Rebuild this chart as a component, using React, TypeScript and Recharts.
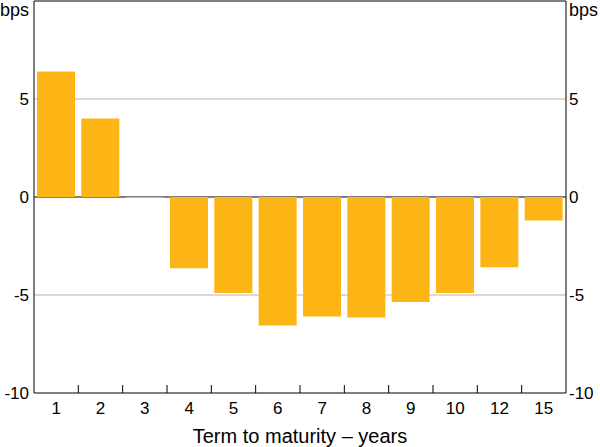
import { Bar, CartesianGrid, ComposedChart, Line, XAxis, YAxis } from "recharts"

const terms = ["1", "2", "3", "4", "5", "6", "7", "8", "9", "10", "12", "15"]
const change = [6.4, 4.0, -0.05, -3.63, -4.9, -6.56, -6.1, -6.15, -5.36, -4.9, -3.58, -1.2]
const yTicks = [-10, -5, 0, 5, 10]

const data = terms.map((term, i) => ({ term, value: change[i] }))

const font = "'Liberation Sans', Arial, sans-serif"

const XTick = (props: any) => {
  const { x, y, payload, index } = props
  const half = payload?.offset ?? 22.17
  return (
    <g>
      <text x={x} y={y + 21} textAnchor="middle" fontSize={17} fontFamily={font} fill="#000">
        {payload.value}
      </text>
      {index < terms.length - 1 && (
        <line x1={x + half} x2={x + half} y1={y - 8} y2={y} stroke="#000" strokeWidth={1} />
      )}
    </g>
  )
}

const YTick = (props: any) => {
  const { x, y, payload, textAnchor } = props
  if (payload.value === 10) {
    return (
      <text x={x} y={y + 15} textAnchor={textAnchor} fontSize={18} fontFamily={font} fill="#000">
        bps
      </text>
    )
  }
  return (
    <text x={x} y={y + 6} textAnchor={textAnchor} fontSize={17} fontFamily={font} fill="#000">
      {payload.value}
    </text>
  )
}

export default function App() {
  return (
    <div style={{ position: "absolute", left: 0, top: 0, background: "#fff" }}>
      <ComposedChart
        width={600}
        height={447}
        data={data}
        margin={{ top: 1, right: 0, bottom: 0, left: 0 }}
        barCategoryGap={3}
      >
        <CartesianGrid yAxisId="left" vertical={false} horizontalValues={[-5, 5]} stroke="#b4b4b4" />
        <CartesianGrid yAxisId="left" vertical={false} horizontalValues={[0, 10]} stroke="#000" />
        <XAxis
          dataKey="term"
          height={54}
          tickLine={false}
          tickSize={0}
          tickMargin={0}
          axisLine={{ stroke: "#000" }}
          tick={<XTick />}
          interval={0}
          label={{
            value: "Term to maturity – years",
            position: "insideBottom",
            offset: 4,
            fontSize: 20,
            fontFamily: font,
            fill: "#000",
          }}
        />
        <YAxis
          yAxisId="left"
          orientation="left"
          width={34}
          domain={[-10, 10]}
          ticks={yTicks}
          interval={0}
          tickLine={false}
          tickSize={0}
          tickMargin={5}
          axisLine={{ stroke: "#000" }}
          tick={<YTick />}
        />
        <YAxis
          yAxisId="right"
          orientation="right"
          width={34}
          domain={[-10, 10]}
          ticks={yTicks}
          interval={0}
          tickLine={false}
          tickSize={0}
          tickMargin={3}
          axisLine={{ stroke: "#000" }}
          tick={<YTick />}
        />
        <Bar yAxisId="left" dataKey="value" fill="#fdb515" isAnimationActive={false} />
        <Line
          yAxisId="right"
          dataKey="value"
          stroke="none"
          dot={false}
          activeDot={false}
          legendType="none"
          isAnimationActive={false}
        />
      </ComposedChart>
    </div>
  )
}
